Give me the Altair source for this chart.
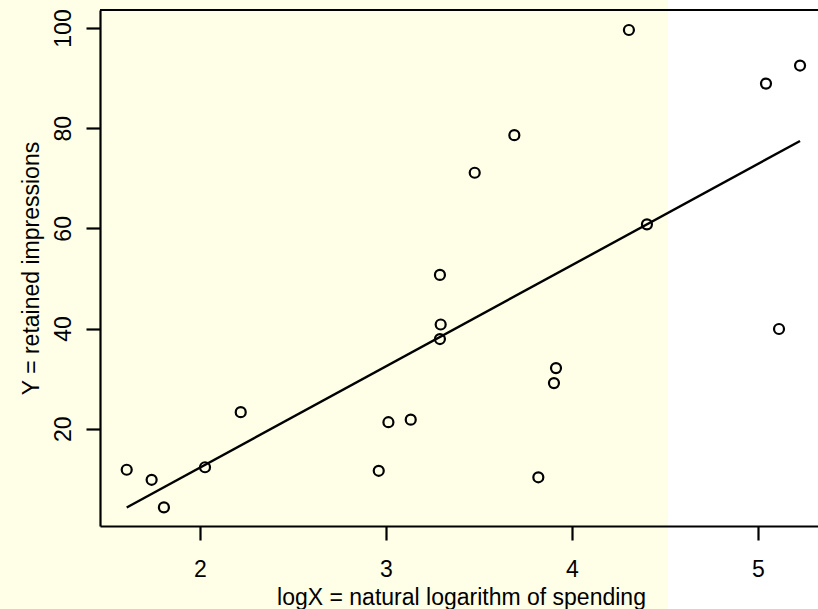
import altair as alt
import pandas as pd

# data
logX = [1.606, 1.740, 1.806, 2.027, 2.219, 2.961, 3.013, 3.133, 3.290, 3.294, 3.290,
        3.477, 3.690, 3.819, 3.903, 3.914, 4.306, 4.403, 5.043, 5.113, 5.226]
Y = [11.8, 9.8, 4.3, 12.3, 23.3, 11.6, 21.3, 21.8, 50.7, 40.8, 37.9,
     71.1, 78.6, 10.3, 29.1, 32.1, 99.6, 60.8, 88.9, 39.9, 92.5]
x_ticks = [2, 3, 4, 5]
y_ticks = [20, 40, 60, 80, 100]

df = pd.DataFrame({"logX": logX, "Y": Y})

W, H = 718, 516
FONT = "Liberation Sans"
YELLOW = "#FFFFE8"

xscale = alt.Scale(domain=[1.4624, 5.3226], nice=False, zero=False)
yscale = alt.Scale(domain=[0.575, 103.59], nice=False, zero=False)

xaxis = alt.Axis(values=x_ticks, format="d", title="logX = natural logarithm of spending",
                 grid=False, domainColor="black", domainWidth=2.2,
                 tickColor="black", tickWidth=2.2, tickSize=14,
                 labelFont=FONT, labelFontSize=23, labelColor="black",
                 labelPadding=18, labelFlush=False, labelOverlap=False,
                 titleFont=FONT, titleFontSize=23, titleFontWeight="normal",
                 titleColor="black", titleX=361, titleY=78,
                 titleBaseline="alphabetic", titleAlign="center", titleAnchor="middle",
                 zindex=1)
yaxis = alt.Axis(values=y_ticks, format="d", title="Y = retained impressions",
                 grid=False, domainColor="black", domainWidth=2.2,
                 tickColor="black", tickWidth=2.2, tickSize=14,
                 labelFont=FONT, labelFontSize=23, labelColor="black",
                 labelAngle=270, labelAlign="center", labelBaseline="bottom",
                 labelPadding=11, labelFlush=False, labelOverlap=False,
                 titleFont=FONT, titleFontSize=23, titleFontWeight="normal",
                 titleColor="black", titleAngle=270, titleX=-62, titleY=258,
                 titleBaseline="alphabetic", titleAlign="center", titleAnchor="middle",
                 zindex=1)

base = alt.Chart(df)

white = base.mark_rect(color="white").encode(
    x=alt.value(568), x2=alt.value(W + 10),
    y=alt.value(-10), y2=alt.value(H + 93))

top = base.mark_rule(color="black", strokeWidth=2.2).encode(
    x=alt.value(0), x2=alt.value(W), y=alt.value(0))

pts = base.mark_point(shape="circle", filled=False, color="black",
                      size=100, strokeWidth=2.2, opacity=1).encode(
    x=alt.X("logX:Q", scale=xscale, axis=xaxis),
    y=alt.Y("Y:Q", scale=yscale, axis=yaxis))

fit = base.transform_regression("logX", "Y").mark_line(
    color="black", strokeWidth=2.4).encode(
    x=alt.X("logX:Q", scale=xscale),
    y=alt.Y("Y:Q", scale=yscale))

chart = alt.layer(white, top, pts, fit).properties(
    width=W, height=H,
    autosize=alt.AutoSizeParams(type="none"),
    padding={"left": 100, "top": 10, "right": 0, "bottom": 83},
).configure(background=YELLOW).configure_view(stroke=None)

chart.save("out.html", embed_options={"renderer": "svg", "actions": False})
